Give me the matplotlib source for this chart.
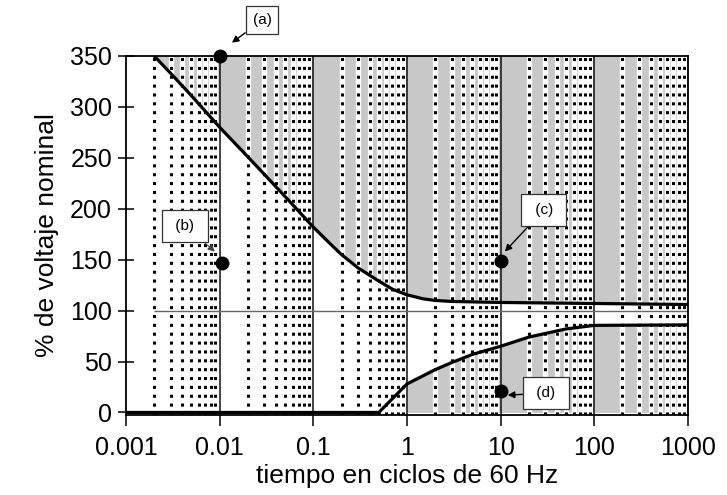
import numpy as np
import matplotlib
matplotlib.use("Agg")
import matplotlib.pyplot as plt
from matplotlib.ticker import LogLocator, FixedLocator, NullFormatter

plt.rcParams["font.family"] = ["Liberation Sans", "DejaVu Sans"]

# upper tolerance curve (cycles, % nominal)
upper_t = [0.002, 0.003, 0.005, 0.01, 0.02, 0.05, 0.1, 0.15, 0.2, 0.3, 0.5, 0.7, 1, 1.5, 2, 3, 10, 100, 1000]
upper_v = [350, 333, 311, 280, 251, 212, 182, 166, 155, 142, 129, 121, 115.5, 111.5, 110, 109, 108, 107, 106]

# lower tolerance curve
lower_t = [0.001, 0.5, 1, 2, 3, 5, 10, 20, 50, 100, 1000]
lower_v = [0, 0, 28, 42, 49, 57, 65, 74, 82, 85.5, 86]

# marked points and their labels
point_t = [0.01, 0.0105, 10, 10]
point_v = [350, 147, 149, 21]
point_labels = ["(a)", " (b) ", " (c) ", " (d) "]
label_t = [0.0283, 0.00427, 28.9, 30.3]
label_v = [385, 183, 199, 19]
arrow_t = [0.0135, 0.0089, 11.1, 11.9]
arrow_v = [363, 158, 158, 17]

x_ticks = [0.001, 0.01, 0.1, 1, 10, 100, 1000]
x_ticklabels = ["0.001", "0.01", "0.1", "1", "10", "100", "1000"]
y_ticks = [0, 50, 100, 150, 200, 250, 300, 350]

gray = "#c8c8c8"

fig = plt.figure(figsize=(7.27, 4.95), dpi=100)
ax = fig.add_axes([0.1733, 0.1616, 0.773, 0.7253])
ax.set_xscale("log")
ax.set_xlim(0.001, 1000)
ax.set_ylim(-2.5, 350)

# shaded out-of-tolerance regions
ax.fill_between(upper_t, upper_v, 350, color=gray, lw=0, zorder=0)
lt = np.array(lower_t)
ax.fill_between(lt, 0, lower_v, where=lt >= 1, color=gray, lw=0, zorder=0)

# dotted minor grid (white band with black dots)
ax.xaxis.set_minor_locator(LogLocator(base=10, subs=np.arange(2, 10)))
ax.xaxis.set_minor_formatter(NullFormatter())
minor = [m for m in ax.xaxis.get_minorticklocs() if 0.001 < m < 1000]
ax.vlines(minor, -2.5, 350, color="white", lw=3.8, zorder=1)
ax.vlines(minor, -2.5, 350, color="black", lw=2.2, linestyles=(0, (1, 1.9)), zorder=2)

# decade lines
ax.vlines(x_ticks[1:-1], -2.5, 350, color="#111111", lw=1.1, zorder=3)
ax.hlines(100, 0.002, 1000, color="#666666", lw=1.0, zorder=3)

ax.plot(upper_t, upper_v, color="black", lw=2.3, zorder=4, solid_capstyle="butt")
ax.plot(lower_t, lower_v, color="black", lw=2.3, zorder=4, solid_capstyle="butt")

ax.plot(point_t, point_v, "o", color="black", ms=9, zorder=6, clip_on=False)

for i, lab in enumerate(point_labels):
    arrow_kw = dict(arrowstyle="-|>", color="black", lw=1.0, mutation_scale=10,
                    shrinkA=0, shrinkB=0)
    pad = 0.6
    if "(a)" in lab:
        pad = 0.45
    if "(b)" in lab:
        arrow_kw.update(color="#444444", lw=0.8)
    ax.annotate(lab, xy=(arrow_t[i], arrow_v[i]), xytext=(label_t[i], label_v[i]),
                ha="center", va="center", fontsize=11, zorder=7,
                annotation_clip=False,
                bbox=dict(boxstyle=f"square,pad={pad}", fc="white", ec="#333333", lw=0.9),
                arrowprops=arrow_kw)

ax.xaxis.set_major_locator(FixedLocator(x_ticks))
ax.set_xticklabels(x_ticklabels)
ax.set_yticks(y_ticks)
ax.tick_params(axis="both", which="major", direction="inout", length=12, width=1.1,
               labelsize=18, pad=4)
ax.tick_params(axis="x", which="major", direction="out", length=8, pad=7)
ax.tick_params(axis="x", which="minor", length=0)

for s in ax.spines.values():
    s.set_linewidth(1.3)
    s.set_zorder(5)

ax.set_xlabel("tiempo en ciclos de 60 Hz", fontsize=19, labelpad=3)
ax.set_ylabel("% de voltaje nominal", fontsize=19, labelpad=8)

fig.savefig("out.png", dpi=100)
